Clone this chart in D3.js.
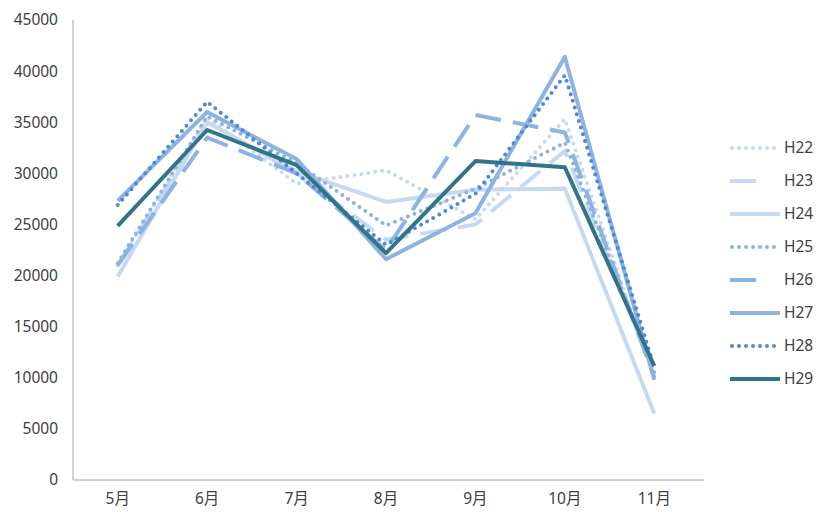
<!DOCTYPE html>
<html>
<head>
<meta charset="utf-8">
<script src="https://cdn.jsdelivr.net/npm/d3@7"></script>
<style>
  body { margin: 0; background: #fff; }
  text { font-family: "Noto Sans", "Noto Sans CJK JP", sans-serif; font-size: 15.5px; fill: #404040; }
</style>
</head>
<body>
<div id="chart"></div>
<script>
const months = ['5月', '6月', '7月', '8月', '9月', '10月', '11月'];
const yTicks = [0, 5000, 10000, 15000, 20000, 25000, 30000, 35000, 40000, 45000];
const seriesNames = ['H22', 'H23', 'H24', 'H25', 'H26', 'H27', 'H28', 'H29'];

const h22 = [21000, 35500, 29000, 30300, 25500, 35300, 10000];
const h23 = [21000, 35000, 30000, 23500, 25000, 32200, 10500];
const h24 = [19900, 35000, 30200, 27200, 28400, 28500, 6500];
const h25 = [21200, 35600, 31000, 24900, 28500, 33000, 10500];
const h26 = [21000, 33500, 30000, 22500, 35700, 34000, 10000];
const h27 = [27300, 36000, 31400, 21600, 26100, 41400, 9800];
const h28 = [26900, 37000, 30000, 23000, 28000, 39600, 11000];
const h29 = [24850, 34240, 30800, 22200, 31200, 30600, 11150];

const seriesValues = [h22, h23, h24, h25, h26, h27, h28, h29];

// line styles per series
const styles = [
  { color: '#c6d9f1', width: 4, dash: '0,7', cap: 'round' },
  { color: '#c6d9f1', width: 4, dash: '26,12', cap: 'butt' },
  { color: '#c6d9f1', width: 4, dash: null, cap: 'butt' },
  { color: '#8db3e2', width: 4, dash: '0,7', cap: 'round' },
  { color: '#8db3e2', width: 4, dash: '26,12', cap: 'butt' },
  { color: '#8db3e2', width: 4, dash: null, cap: 'butt' },
  { color: '#4f88d6', width: 4, dash: '0,7', cap: 'round' },
  { color: '#2f7587', width: 4, dash: null, cap: 'butt' }
];

const width = 817, height = 512;
const margin = { top: 20, left: 73, right: 118, bottom: 32 };

const svg = d3.select('#chart').
append('svg').
attr('width', width).
attr('height', height);

const x = d3.scaleBand().
domain(months).
range([margin.left, width - margin.right]);

const y = d3.scaleLinear().
domain([0, 45000]).
range([height - margin.bottom, margin.top]);

// y axis labels
svg.append('g').
selectAll('text').
data(yTicks).
enter().
append('text').
attr('x', 58).
attr('y', d => y(d)).
attr('dy', '0.35em').
attr('text-anchor', 'end').
text(d => d);

// axis lines
svg.append('line').
attr('x1', margin.left).attr('x2', margin.left).
attr('y1', margin.top).attr('y2', y(0)).
attr('stroke', '#a6a6a6').attr('stroke-width', 1);

svg.append('line').
attr('x1', margin.left).attr('x2', width - margin.right + 5).
attr('y1', y(0)).attr('y2', y(0)).
attr('stroke', '#a6a6a6').attr('stroke-width', 1);

// x labels
svg.append('g').
selectAll('text').
data(months).
enter().
append('text').
attr('x', d => x(d) + x.bandwidth() / 2).
attr('y', 504).
attr('text-anchor', 'middle').
text(d => d);

const line = d3.line().
x((d, i) => x(months[i]) + x.bandwidth() / 2).
y(d => y(d));

const lines = svg.append('g');
seriesValues.forEach((vals, i) => {
  const s = styles[i];
  lines.append('path').
  datum(vals).
  attr('d', line).
  attr('fill', 'none').
  attr('stroke', s.color).
  attr('stroke-width', s.width).
  attr('stroke-linecap', s.cap).
  attr('stroke-linejoin', 'round').
  attr('stroke-dasharray', s.dash);
});

// legend
const legend = svg.append('g').attr('transform', 'translate(730,148)');
seriesNames.forEach((name, i) => {
  const s = styles[i];
  const g = legend.append('g').attr('transform', `translate(0,${i * 33})`);
  g.append('line').
  attr('x1', s.cap === 'round' ? 2 : 0).
  attr('x2', s.dash && s.cap === 'butt' ? 35 : 50).
  attr('y1', 0).attr('y2', 0).
  attr('stroke', s.color).
  attr('stroke-width', s.width).
  attr('stroke-linecap', s.cap).
  attr('stroke-dasharray', s.dash);
  g.append('text').
  attr('x', 54).
  attr('y', 0).
  attr('dy', '0.35em').
  text(name);
});
</script>
</body>
</html>
